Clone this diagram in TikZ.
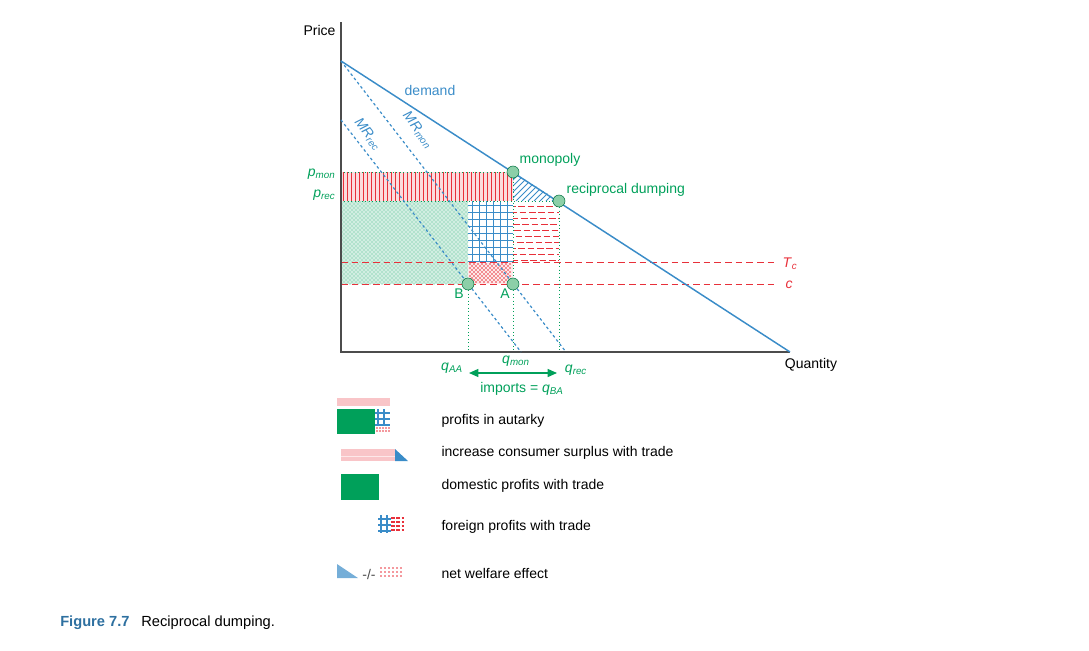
\documentclass[tikz,border=0pt]{standalone}
\usepackage{fontspec}
\setmainfont{Liberation Sans}
\usetikzlibrary{patterns,arrows.meta}
\definecolor{cblue}{HTML}{3A8CC8}
\definecolor{cgreen}{HTML}{00A05A}
\definecolor{cred}{HTML}{E8303A}
\definecolor{cpink}{HTML}{F9C5C8}
\definecolor{cpt}{HTML}{8CCFA8}
\newcommand{\isub}[2]{\textit{#1}\textsubscript{\textit{#2}}}
\tikzset{
  lbl/.style={font=\fontsize{10.5}{12}\selectfont, inner sep=1pt},
  glbl/.style={lbl, text=cgreen},
  pt/.style={circle, draw=cgreen!70!black, fill=cpt, minimum size=9pt, inner sep=0pt},
  mr/.style={cblue, dashed, dash pattern=on 2pt off 2pt, line width=0.9pt},
  cline/.style={cred, dashed, dash pattern=on 5pt off 3pt, line width=0.6pt},
  vdot/.style={cgreen, dotted, line width=0.6pt},
}
\begin{document}
\begin{tikzpicture}[x=0.75pt,y=-0.75pt]
\useasboundingbox (0,0) rectangle (1089,650);
% regions
\fill[cpink!60] (341,172) rectangle (513,201);
\begin{scope}
\clip (341,172) rectangle (513,201);
\foreach \x in {343,347,...,513} \draw[cred, line width=0.6pt] (\x,172) -- (\x,201);
\end{scope}
\begin{scope}
\clip (513,172) -- (559,201) -- (513,201) -- cycle;
\foreach \x in {480,486,...,560} \draw[cblue, line width=0.6pt] (\x,201) -- (\x+30,171);
\end{scope}
\fill[cgreen!18] (341,201) rectangle (468,284);
\fill[pattern=crosshatch dots, pattern color=cgreen!70] (341,201) rectangle (468,284);
\begin{scope}
\clip (468,201) rectangle (513,262);
\foreach \x in {472,479,...,513} \draw[cblue, line width=0.7pt] (\x,201) -- (\x,262);
\foreach \y in {205,212,...,262} \draw[cblue, line width=0.7pt] (468,\y) -- (513,\y);
\end{scope}
\begin{scope}
\clip (513,201) rectangle (559,262);
\foreach \y in {206,212,...,262} \draw[cred, line width=0.7pt, dash pattern=on 5pt off 2pt, dash phase=\y] (513,\y) -- (559,\y);
\end{scope}
\fill[cpink!40] (468,262) rectangle (513,284);
\foreach \x in {470,474,...,510} \foreach \y in {264,268,...,283} \fill[cred] (\x,\y) circle (0.6pt);
\foreach \x in {472,476,...,510} \foreach \y in {266,270,...,283} \fill[cred] (\x,\y) circle (0.6pt);
\draw[vdot] (341,172) -- (513,172);
\draw[vdot] (341,201) -- (559,201);
% cost lines
\draw[cline] (341,262) -- (775,262);
\draw[cline] (341,284) -- (775,284);
\coordinate (xB) at (468,352); \coordinate (xA) at (513,352); \coordinate (xR) at (559,352);
% axes
\draw[black!70, line width=0.8pt] (341,22) -- (341,352) -- (790,352);
% demand, MR
\coordinate (d0) at (341,61); \coordinate (d1) at (790,352);
\draw[cblue, line width=1.1pt] (d0) -- (d1);
\draw[mr] (341,61) -- (566,352);
\draw[mr] (341,120) -- (521,352);
% points
\node[pt] (M) at (513,172) {};
\node[pt] (R) at (559,201) {};
\node[pt] (B) at (468,284) {};
\node[pt] (A) at (513,284) {};
\draw[vdot] (B) -- (xB); \draw[vdot] (A) -- (xA); \draw[vdot] (R) -- (xR);
\draw[vdot] (M) -- (A); \draw[vdot] (R) -- (559,284);
% labels
\node[lbl, anchor=east] at (337,30) {Price};
\node[lbl, text=cblue] at (430,90) {demand};
\node[lbl, text=cblue, rotate=-52] at (368,134) {\isub{MR}{rec}};
\node[lbl, text=cblue, rotate=-52] at (418,130) {\isub{MR}{mon}};
\node[glbl, anchor=west] at (518,160) {monopoly};
\node[glbl, anchor=west] at (565,190) {reciprocal dumping};
\node[glbl, anchor=east] at (337,174) {\isub{p}{mon}};
\node[glbl, anchor=east] at (337,195) {\isub{p}{rec}};
\node[glbl] at (459,294) {B};
\node[glbl] at (505,294) {A};
\node[lbl, text=cred] at (790,264) {\isub{T}{c}};
\node[lbl, text=cred] at (789,285) {\textit{c}};
\node[lbl] at (811,365) {Quantity};
\node[glbl] (qaa) at (452,368) {\isub{q}{AA}};
\node[glbl] at (516,361) {\isub{q}{mon}};
\node[glbl] (qrec) at (576,370) {\isub{q}{rec}};
\draw[cgreen, line width=1pt, {Triangle[length=7pt,width=6pt]}-{Triangle[length=7pt,width=6pt]}] (469,373) -- (557,373);
\node[glbl] at (522,389) {imports = \textit{q}\textsubscript{\textit{BA}}};
% legend
\fill[cpink] (337,398) rectangle (390,406);
\fill[cgreen] (337,409) rectangle (375,434);
\begin{scope}
\clip (375,409) rectangle (390,426);
\foreach \x in {378,384} \draw[cblue, line width=0.8pt] (\x,409) -- (\x,426);
\foreach \y in {413,419,425} \draw[cblue, line width=0.8pt] (375,\y) -- (390,\y);
\end{scope}
\foreach \x in {377,380,...,389} \foreach \y in {428,431} \fill[cred] (\x,\y) circle (0.6pt);
\node[lbl, anchor=west] at (440,421) {profits in autarky};
\fill[cpink] (341,449) rectangle (395,461);
\fill[cpink!40] (341,456) rectangle (395,457);
\fill[cblue] (395,449) -- (408,461) -- (395,461) -- cycle;
\node[lbl, anchor=west] at (440,453) {increase consumer surplus with trade};
\fill[cgreen] (341,474) rectangle (379,500);
\node[lbl, anchor=west] at (440,486) {domestic profits with trade};
\begin{scope}
\clip (378,515) rectangle (391,533);
\foreach \x in {381,387} \draw[cblue, line width=0.8pt] (\x,515) -- (\x,533);
\foreach \y in {519,525,531} \draw[cblue, line width=0.8pt] (378,\y) -- (391,\y);
\end{scope}
\foreach \y in {518,522,...,532} \draw[cred, line width=1.5pt, dash pattern=on 3pt off 1pt] (391,\y) -- (404,\y);
\node[lbl, anchor=west] at (440,527) {foreign profits with trade};
\fill[cblue!70] (337,564) -- (358,578) -- (337,578) -- cycle;
\node[lbl, text=black!70] at (369,574) {-/-};
\foreach \x in {381,385,...,401} \foreach \y in {568,572,576} \fill[cred] (\x,\y) circle (0.6pt);
\node[lbl, anchor=west] at (440,573) {net welfare effect};
% caption
\node[anchor=west, inner sep=0pt, font=\fontsize{11}{13}\selectfont] at (60,623) {\textcolor{cblue!80!black}{\textbf{Figure 7.7}}\hspace{0.8em}Reciprocal dumping.};
\end{tikzpicture}
\end{document}
